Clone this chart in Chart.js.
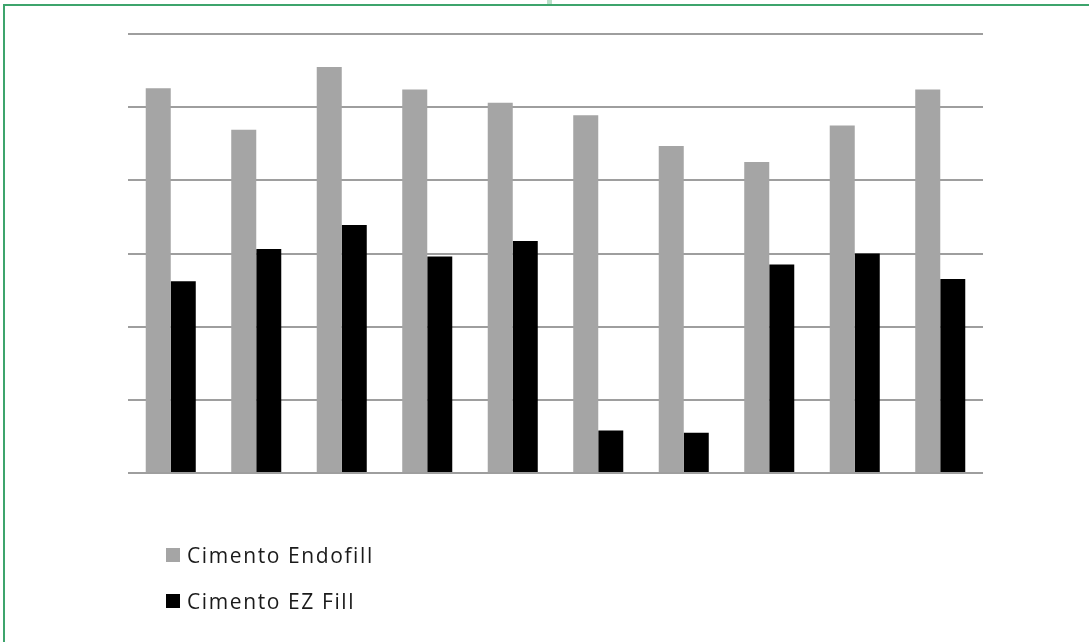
<!DOCTYPE html>
<html>
<head>
<meta charset="utf-8">
<script src="https://cdn.jsdelivr.net/npm/chart.js@4/dist/chart.umd.min.js"></script>
<style>
  html, body { margin: 0; padding: 0; background: #fff; }
  #wrap { position: relative; width: 1089px; height: 642px; overflow: hidden; }
  #frame { position: absolute; left: 3px; top: 4px; right: -4px; bottom: -4px;
           border-top: 2px solid #3da46c; border-left: 2px solid #3da46c; pointer-events: none; }
  #handle { position: absolute; left: 547px; top: 0; width: 5px; height: 4px; background: #b9dfc8; }
  canvas { position: absolute; left: 0; top: 0; }
  #legend { position: absolute; left: 166px; top: 542px; font-family: "Open Sans", "Noto Sans", sans-serif;
            font-size: 21px; letter-spacing: 1.6px; color: #1a1a1a; }
  #legend .item { display: flex; align-items: center; height: 26px; margin-bottom: 20px; }
  #legend .box { width: 14px; height: 14px; margin-right: 7px; }
</style>
</head>
<body>
<div id="wrap">
  <canvas id="c" width="1089" height="642"></canvas>
  <div id="frame"></div>
  <div id="handle"></div>
  <div id="legend"></div>
</div>
<script>
// Ten paired samples; unlabeled categories on the x axis
const categories = ["1", "2", "3", "4", "5", "6", "7", "8", "9", "10"];
const seriesNames = ["Cimento Endofill", "Cimento EZ Fill"];
const endofillValues = [5.26, 4.69, 5.55, 5.24, 5.06, 4.89, 4.47, 4.25, 4.75, 5.24];
const ezFillValues = [2.62, 3.06, 3.39, 2.96, 3.17, 0.58, 0.55, 2.85, 3.00, 2.65];
const seriesColors = ["#a5a5a5", "#000000"];

const chart = new Chart(document.getElementById("c"), {
  type: "bar",
  data: {
    labels: categories,
    datasets: [
      { label: seriesNames[0], data: endofillValues, backgroundColor: seriesColors[0] },
      { label: seriesNames[1], data: ezFillValues, backgroundColor: seriesColors[1] }
    ]
  },
  options: {
    responsive: false,
    animation: false,
    devicePixelRatio: 1,
    layout: { padding: { left: 128, right: 106, top: 34, bottom: 169 } },
    datasets: { bar: { barPercentage: 1, categoryPercentage: 0.585 } },
    plugins: { legend: { display: false }, tooltip: { enabled: false } },
    scales: {
      x: {
        grid: { display: false },
        border: { display: false },
        ticks: { display: false },
        afterFit(scale) { scale.height = 0; }
      },
      y: {
        min: 0, max: 6,
        ticks: { display: false, stepSize: 1 },
        grid: { color: "#9e9e9e", lineWidth: 2, drawTicks: false },
        border: { display: false },
        afterFit(scale) { scale.width = 0; }
      }
    }
  }
});

// Vertical legend built from the chart's datasets
const legend = document.getElementById("legend");
chart.data.datasets.forEach(ds => {
  const item = document.createElement("div");
  item.className = "item";
  const box = document.createElement("span");
  box.className = "box";
  box.style.background = ds.backgroundColor;
  const txt = document.createElement("span");
  txt.textContent = ds.label;
  item.appendChild(box);
  item.appendChild(txt);
  legend.appendChild(item);
});
</script>
</body>
</html>
